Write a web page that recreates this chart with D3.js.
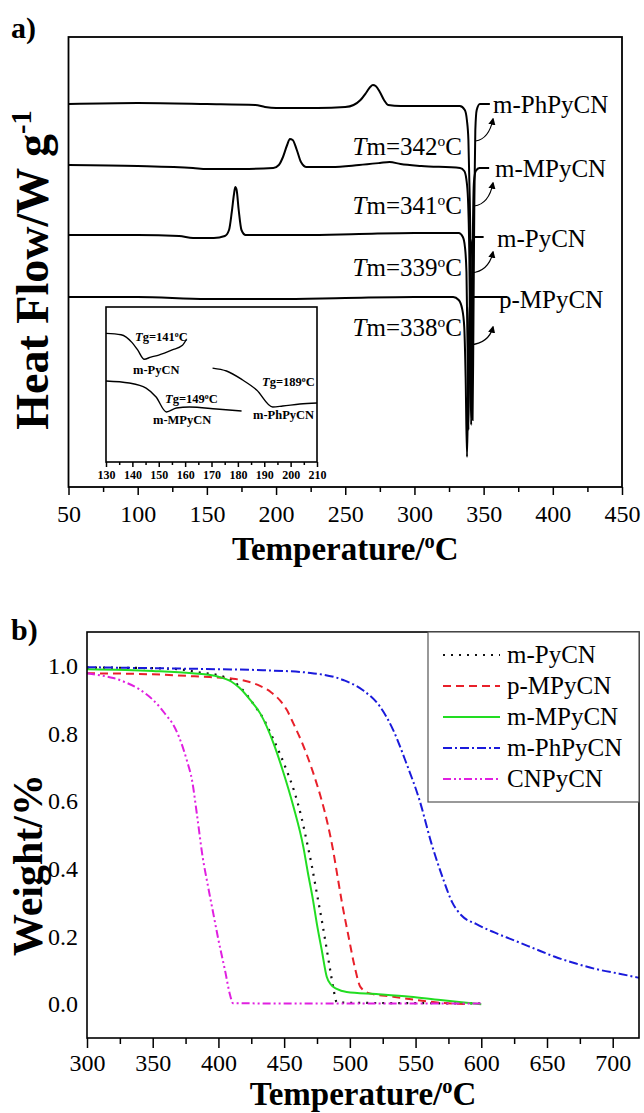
<!DOCTYPE html>
<html>
<head>
<meta charset="utf-8">
<script src="https://cdn.jsdelivr.net/npm/d3@7"></script>
<style>
  body { margin: 0; background: #fff; }
  svg, svg text, svg .tick text { font-family: "Liberation Serif", "Times New Roman", serif !important; }
  svg { display: block; }
</style>
</head>
<body>
<svg id="chart" width="644" height="1113"></svg>
<script>
// ---------- (a) DSC : [temperature °C, heat flow (a.u., curves stacked)] ----------
const dscTicks = [50, 100, 150, 200, 250, 300, 350, 400, 450];
const dscMinor = [75, 125, 175, 225, 275, 325, 375, 425];
const dscNames = ['m-PhPyCN', 'm-MPyCN', 'm-PyCN', 'p-MPyCN'];
const dscTm = [342, 341, 339, 338];

const dscPhPy = [[50,38.3],[100,38.4],[150,38.3],[185,38.2],[192,38.0],[200,37.9],[230,37.9],[250,38.0],[256,38.2],
  [261,38.7],[265,39.4],[268,40.0],[270,40.2],[272,40.1],[275,39.5],[278,38.7],[281,38.2],[290,38.1],[320,38.1],
  [332.8,38.1],[336.4,37.7],[337.9,36.7],[339,34.7],[340,28.7],[341.1,18.7],[342,6.7],[342.6,15.7],[343.3,28.7],
  [344,35.7],[345,37.7],[347.3,38.3],[354.5,38.3]];
const dscMPy = [[50,32.2],[100,32.1],[140,31.9],[150,31.8],[175,31.8],[198,31.9],[202,32.2],[205,33.0],[208,34.2],
  [210,34.8],[212,34.7],[215,33.7],[218,32.5],[222,32.0],[240,32.0],[260,32.2],[275,32.4],[282,32.5],[290,32.3],
  [305,32.1],[333,31.9],[336,31.6],[337.5,30.8],[338.7,28.8],[339.7,22.8],[340.4,12.8],[341,6.2],[341.6,14.5],
  [342.3,26.0],[343,30.5],[344.3,31.6],[347,31.9],[354,31.9]];
const dscPy = [[50,25.2],[100,25.2],[130,25.1],[140,24.9],[155,24.9],[163,25.1],[166,25.7],[168,27.5],[169.5,29.2],
  [170.5,30.0],[171.5,29.7],[173,27.7],[175,25.7],[178,25.2],[220,25.2],[260,25.3],[300,25.4],[332,25.4],[335,25.0],
  [336.5,24.0],[337.6,21.5],[338.4,14.0],[339,5.7],[339.6,13.0],[340.3,21.0],[341.3,24.2],[343,25.0],[350,25.0]];
const dscPMPy = [[50,19.0],[100,19.0],[150,18.8],[200,18.8],[250,18.9],[300,19.0],[328,19.0],[332,18.7],[334.5,17.8],
  [336,16.0],[337,11.0],[338,3.0],[338.8,10.0],[339.6,16.5],[340.5,18.5],[342,19.0],[367,19.0]];

// inset : glass transitions
const tgTicks = [130, 140, 150, 160, 170, 180, 190, 200, 210];
const tgMinor = [135, 145, 155, 165, 175, 185, 195, 205];
const tgPy = [[130,8.30],[135.7,8.21],[139.9,7.70],[142,7.23],[144.5,6.63],[147,6.77],[150,6.90],[155.1,7.23],[159,7.53],[160.5,7.92]];
const tgMPy = [[130,5.23],[138.8,5.10],[145.2,4.77],[149,4.19],[152.9,3.23],[156.7,3.48],[161.6,3.55],[171.9,3.42],[181.4,3.29]];
const tgPhPy = [[170.4,6.06],[175.7,5.87],[181.8,5.29],[187.1,4.65],[193.2,3.55],[197,3.61],[203.5,3.74],[210,3.81]];

// ---------- (b) TGA : [temperature °C, weight fraction] ----------
const tgaTicksX = [300, 350, 400, 450, 500, 550, 600, 650, 700];
const tgaMinorX = [325, 375, 425, 475, 525, 575, 625, 675];
const tgaTicksY = [0, 0.2, 0.4, 0.6, 0.8, 1.0];
const tgaNames = ['m-PyCN', 'p-MPyCN', 'm-MPyCN', 'm-PhPyCN', 'CNPyCN'];

const tgaPy = [[300,0.995],[350,0.993],[370,0.99],[386,0.98],[400,0.972],[411,0.955],[420,0.922],[427,0.885],[434,0.845],
  [441,0.79],[447,0.738],[452,0.69],[458,0.625],[463,0.555],[467,0.485],[471,0.41],[475,0.325],[479,0.24],[482.5,0.16],
  [485.5,0.09],[488,0.035],[490,0.006],[500,0.004],[550,0.003],[600,0.002]];
const tgaPMPy = [[300,0.978],[350,0.975],[386,0.968],[411,0.962],[420,0.956],[432,0.94],[440,0.922],[447,0.897],[452,0.87],
  [457,0.83],[465,0.76],[472,0.685],[478,0.61],[483,0.535],[487,0.46],[490.5,0.38],[494,0.3],[499,0.2],[504,0.105],
  [508,0.051],[515,0.032],[533,0.022],[551,0.012],[569,0.004],[590,0.0]];
const tgaMMPy = [[300,0.99],[350,0.985],[380,0.978],[400,0.968],[410,0.953],[416,0.935],[424,0.9],[432,0.858],[442,0.77],
  [449,0.69],[457,0.585],[464.6,0.465],[468,0.39],[472,0.307],[475,0.235],[478.6,0.16],[482.4,0.081],[486,0.056],
  [490,0.045],[497.6,0.036],[520,0.03],[546,0.022],[569,0.012],[585,0.006],[600,0.0]];
const tgaPhPy = [[300,0.996],[350,0.993],[400,0.99],[434,0.987],[470,0.979],[495,0.958],[510,0.928],[523,0.879],[533,0.81],
  [543,0.712],[553,0.603],[562,0.476],[571,0.37],[578,0.3],[585,0.262],[596,0.237],[610,0.212],[624,0.19],[640,0.165],
  [656,0.14],[672,0.12],[687,0.104],[705,0.09],[720,0.078]];
const tgaCNPy = [[300,0.978],[310,0.972],[320,0.964],[330,0.95],[340,0.93],[350,0.9],[355,0.88],[360,0.855],[365,0.83],
  [370,0.79],[376,0.72],[380,0.66],[383.5,0.565],[388,0.435],[392,0.35],[396,0.27],[400,0.19],[405,0.1],[409,0.025],
  [411,0.003],[450,0.002],[500,0.002],[550,0.002],[600,0.002]];

const svg = d3.select('#chart');

const A = { left: 68.5, right: 622, top: 37, bottom: 487 };   // painel a
const I = { left: 106, right: 317, top: 307, bottom: 462 };    // inset
const B = { left: 87, right: 639, top: 632, bottom: 1038 };    // painel b

const xA = d3.scaleLinear().domain([50, 450]).range([A.left, A.right]);
const yA = d3.scaleLinear().domain([0, 45]).range([A.bottom, A.top]);
const xI = d3.scaleLinear().domain([130, 210]).range([I.left, I.right]);
const yI = d3.scaleLinear().domain([0, 10]).range([I.bottom, I.top]);
const xB = d3.scaleLinear().domain([300, 720]).range([B.left, B.right]);
const yB = d3.scaleLinear().domain([-0.1, 1.1]).range([B.bottom, B.top]);

// texto com partes em itálico / sobrescrito
function rich(sel, parts, fs) {
  let shift = 0;
  parts.forEach(p => {
    const ts = sel.append('tspan').text(p.t);
    if (p.i) ts.attr('font-style', 'italic');
    if (p.sup) {
      ts.attr('font-size', fs * 0.62).attr('dy', -fs * 0.36);
      shift = fs * 0.36;
    } else if (shift) {
      ts.attr('dy', shift);
      shift = 0;
    }
  });
  return sel;
}

function frame(box, w) {
  svg.append('rect')
    .attr('x', box.left).attr('y', box.top)
    .attr('width', box.right - box.left).attr('height', box.bottom - box.top)
    .attr('fill', 'none').attr('stroke', '#000').attr('stroke-width', w);
}

function bottomAxis(x, yPos, major, minor, len, minLen, pad, fs, bold) {
  const g = svg.append('g').attr('transform', `translate(0,${yPos})`);
  g.call(d3.axisBottom(x).tickValues(major).tickSize(len).tickPadding(pad).tickFormat(d3.format('d')));
  g.append('g').call(d3.axisBottom(x).tickValues(minor).tickSize(minLen).tickFormat(''))
    .select('.domain').remove();
  g.select('.domain').remove();
  g.selectAll('line').attr('stroke', '#000').attr('stroke-width', 1.5);
  g.selectAll('text').attr('fill', '#000').attr('font-size', fs)
    .attr('font-weight', bold ? 'bold' : 'normal');
  return g;
}

// ================= painel a =================
svg.append('text').attr('x', 11).attr('y', 38).attr('font-size', 30).attr('font-weight', 'bold').text('a)');

const lineA = d3.line().x(d => xA(d[0])).y(d => yA(d[1])).curve(d3.curveMonotoneX);
[dscPhPy, dscMPy, dscPy, dscPMPy].forEach(s => {
  svg.append('path').attr('d', lineA(s)).attr('fill', 'none')
    .attr('stroke', '#000').attr('stroke-width', 2);
});

frame(A, 1.8);
bottomAxis(xA, A.bottom, dscTicks, dscMinor, 8, 5, 10, 24, false);

svg.append('text')
  .attr('x', (A.left + A.right) / 2).attr('y', 560)
  .attr('text-anchor', 'middle').attr('font-size', 33).attr('font-weight', 'bold')
  .call(rich, [{ t: 'Temperature/' }, { t: 'o', sup: true }, { t: 'C' }], 33);

svg.append('text')
  .attr('transform', 'translate(48,270) rotate(-90)')
  .attr('text-anchor', 'middle').attr('font-size', 46).attr('font-weight', 'bold')
  .call(rich, [{ t: 'Heat Flow/W g' }, { t: '-1', sup: true }], 46);

// rótulos, Tm e setas curvas
svg.append('defs').append('marker')
  .attr('id', 'head').attr('viewBox', '0 0 10 10').attr('refX', 8).attr('refY', 5)
  .attr('markerWidth', 6).attr('markerHeight', 6).attr('orient', 'auto')
  .append('path').attr('d', 'M0,0 L10,5 L0,10 z').attr('fill', '#000');

const nameX = [493, 495, 497, 499];
const nameY = [113, 177, 247, 308];
const tmY = [155, 214, 276, 336];
const tailY = [141, 206, 273, 345];
const headY = [119, 183, 252, 327];

dscNames.forEach((n, i) => {
  svg.append('text').attr('x', nameX[i]).attr('y', nameY[i]).attr('font-size', 25).text(n);
  svg.append('text').attr('x', 462).attr('y', tmY[i]).attr('text-anchor', 'end').attr('font-size', 25)
    .call(rich, [{ t: 'T', i: true }, { t: 'm=' + dscTm[i] }, { t: 'o', sup: true }, { t: 'C' }], 25);
  const x0 = xA(dscTm[i]) + 3, x1 = 493;
  svg.append('path')
    .attr('d', `M${x0},${tailY[i]} Q${x1 - 4},${tailY[i] - 2} ${x1},${headY[i]}`)
    .attr('fill', 'none').attr('stroke', '#000').attr('stroke-width', 1.2)
    .attr('marker-end', 'url(#head)');
});

// inset
svg.append('rect').attr('x', I.left).attr('y', I.top).attr('width', I.right - I.left)
  .attr('height', I.bottom - I.top).attr('fill', '#fff');
const lineI = d3.line().x(d => xI(d[0])).y(d => yI(d[1])).curve(d3.curveMonotoneX);
[tgPy, tgMPy, tgPhPy].forEach(s => {
  svg.append('path').attr('d', lineI(s)).attr('fill', 'none')
    .attr('stroke', '#000').attr('stroke-width', 1.4);
});
frame(I, 1.6);
bottomAxis(xI, I.bottom, tgTicks, tgMinor, 5, 3, 3, 12, true);

const insetNotes = [
  { x: 135, y: 341, parts: [{ t: 'T', i: true }, { t: 'g=141' }, { t: 'o', sup: true }, { t: 'C' }] },
  { x: 133, y: 374, parts: [{ t: 'm-PyCN' }] },
  { x: 165, y: 403, parts: [{ t: 'T', i: true }, { t: 'g=149' }, { t: 'o', sup: true }, { t: 'C' }] },
  { x: 153, y: 424, parts: [{ t: 'm-MPyCN' }] },
  { x: 262, y: 386, parts: [{ t: 'T', i: true }, { t: 'g=189' }, { t: 'o', sup: true }, { t: 'C' }] },
  { x: 253, y: 419, parts: [{ t: 'm-PhPyCN' }] }
];
insetNotes.forEach(n => {
  svg.append('text').attr('x', n.x).attr('y', n.y).attr('font-size', 12.5).attr('font-weight', 'bold')
    .call(rich, n.parts, 12.5);
});

// ================= painel b =================
svg.append('text').attr('x', 11).attr('y', 640).attr('font-size', 30).attr('font-weight', 'bold').text('b)');

const tgaSeries = [tgaPy, tgaPMPy, tgaMMPy, tgaPhPy, tgaCNPy];
const tgaColor = ['#111', '#e8202a', '#22dd22', '#1a1adb', '#e020e0'];
const tgaDash = ['2,6', '8,5', null, '9,3,2,3', '8,3,2,3,2,3'];
const tgaWidth = [2.2, 2, 2, 2, 2];

svg.append('clipPath').attr('id', 'clipB').append('rect')
  .attr('x', B.left).attr('y', B.top).attr('width', B.right - B.left).attr('height', B.bottom - B.top);

const lineB = d3.line().x(d => xB(d[0])).y(d => yB(d[1])).curve(d3.curveMonotoneX);
const plotB = svg.append('g').attr('clip-path', 'url(#clipB)');
tgaSeries.forEach((s, i) => {
  plotB.append('path').attr('d', lineB(s)).attr('fill', 'none')
    .attr('stroke', tgaColor[i]).attr('stroke-width', tgaWidth[i])
    .attr('stroke-dasharray', tgaDash[i]);
});

frame(B, 1.6);
bottomAxis(xB, B.bottom, tgaTicksX, tgaMinorX, 10, 6, 6, 24, false);

const yAxisB = svg.append('g').attr('transform', `translate(${B.left},0)`)
  .call(d3.axisLeft(yB).tickValues(tgaTicksY).tickSize(0).tickPadding(9).tickFormat(d3.format('.1f')));
yAxisB.select('.domain').remove();
yAxisB.selectAll('text').attr('fill', '#000').attr('font-size', 24);

svg.append('text')
  .attr('x', (B.left + B.right) / 2).attr('y', 1105)
  .attr('text-anchor', 'middle').attr('font-size', 33).attr('font-weight', 'bold')
  .call(rich, [{ t: 'Temperature/' }, { t: 'o', sup: true }, { t: 'C' }], 33);

svg.append('text')
  .attr('transform', 'translate(42,865) rotate(-90)')
  .attr('text-anchor', 'middle').attr('font-size', 42).attr('font-weight', 'bold')
  .text('Weight/%');

// legenda
const leg = svg.append('g');
leg.append('rect').attr('x', 428).attr('y', B.top).attr('width', B.right - 428).attr('height', 170)
  .attr('fill', '#fff').attr('stroke', '#555').attr('stroke-width', 1.2);
tgaNames.forEach((n, i) => {
  const ry = 655 + i * 31;
  leg.append('line').attr('x1', 443).attr('x2', 500).attr('y1', ry).attr('y2', ry)
    .attr('stroke', tgaColor[i]).attr('stroke-width', tgaWidth[i])
    .attr('stroke-dasharray', tgaDash[i]);
  leg.append('text').attr('x', 507).attr('y', ry + 8).attr('font-size', 25).text(n);
});
</script>
</body>
</html>
